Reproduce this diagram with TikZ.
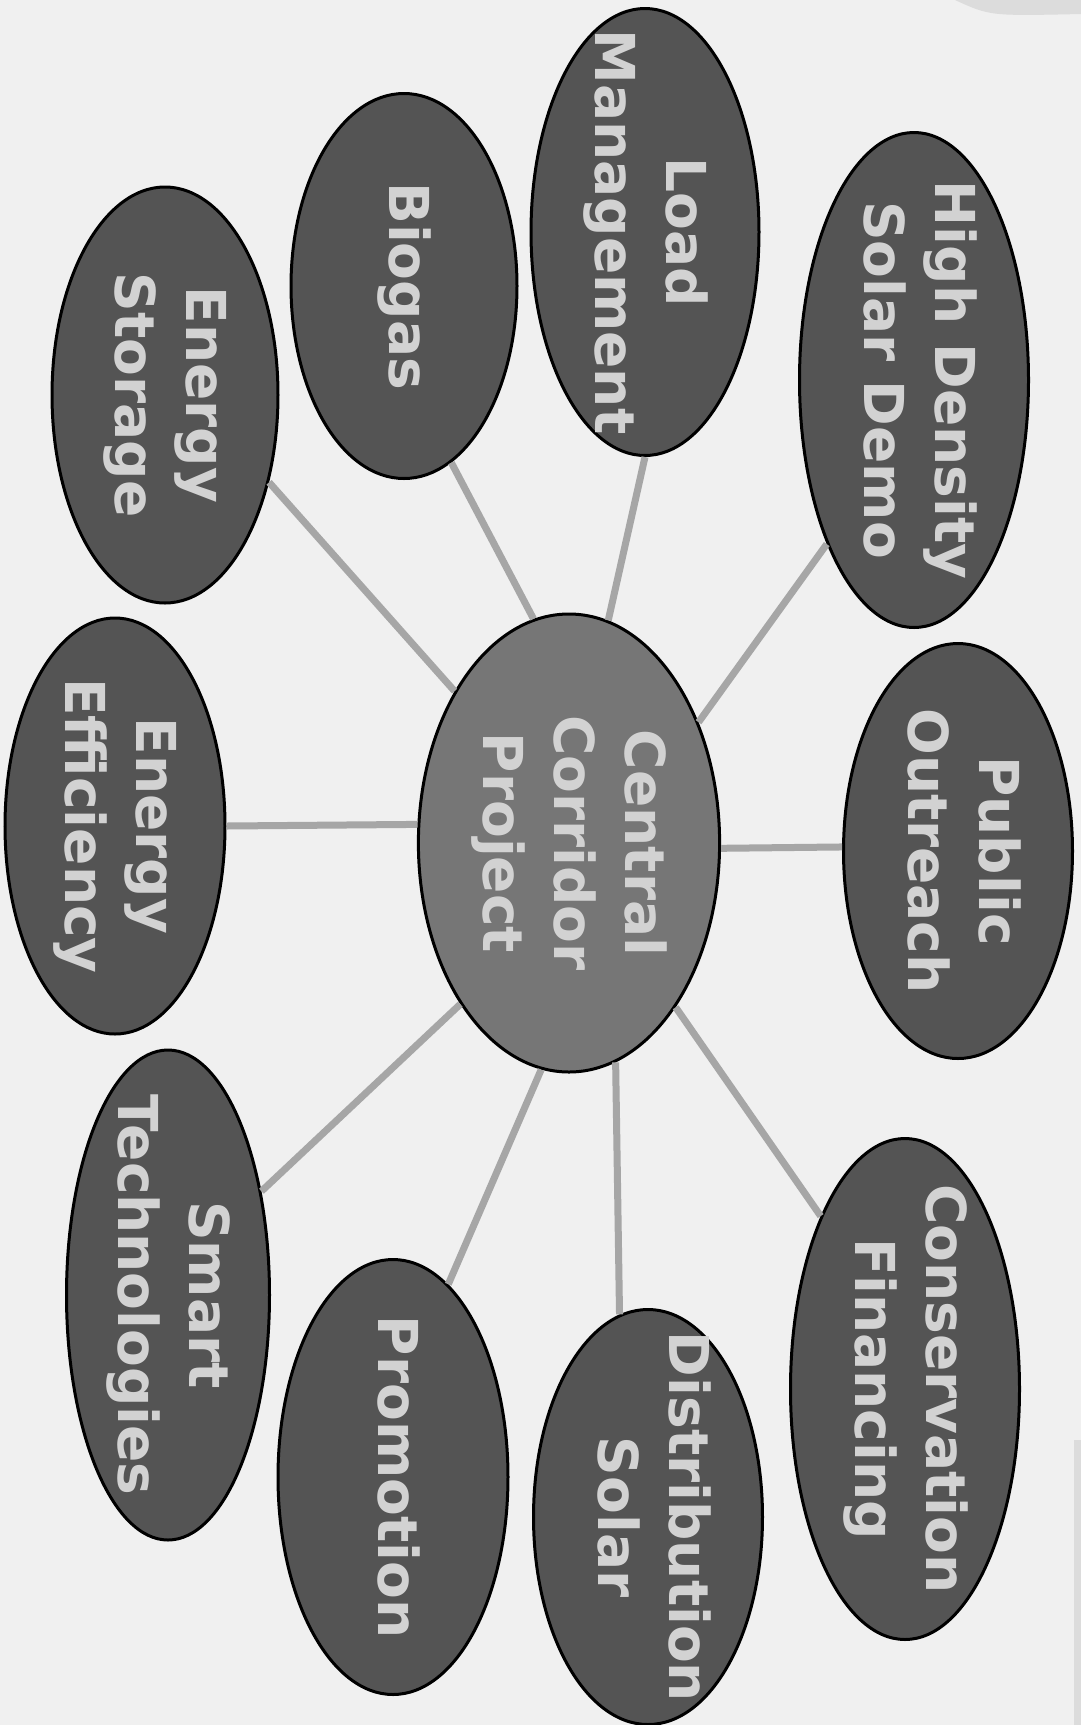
\documentclass[tikz,border=0pt]{standalone}
\usepackage{fontspec}
\setmainfont{DejaVu Sans}
\usetikzlibrary{shapes.geometric}
\definecolor{bgc}{HTML}{F0F0F0}
\definecolor{ovc}{HTML}{545454}
\definecolor{cenc}{HTML}{767676}
\definecolor{txc}{HTML}{D2D2D2}
\definecolor{lnc}{HTML}{A6A6A6}
\definecolor{edgec}{HTML}{DCDCDC}
\newcommand{\bubtext}[1]{\makebox[0pt]{\begin{tabular}{@{}c@{}}#1\end{tabular}}}
\begin{document}
\begin{tikzpicture}[x=1pt,y=-1pt,
  bubble/.style={ellipse, draw=black, line width=3pt, fill=ovc, rotate=-90,
    inner sep=0pt, text=txc, font=\fontsize{55}{71}\selectfont\bfseries},
  hub/.style={bubble, fill=cenc},
  link/.style={draw=lnc, line width=7pt}]
\fill[bgc] (0,0) rectangle (1081,1725);
\useasboundingbox (0,0) rectangle (1081,1725);
\fill[edgec] (955,0) .. controls (990,16) .. (1081,14) -- (1081,0) -- cycle;
\fill[edgec] (1074,1440) rectangle (1081,1725);
% nodes (minimum width = vertical extent, minimum height = horizontal extent, because of rotation)
\node[hub, minimum width=458pt, minimum height=270pt] (c) at (569,843) {\bubtext{Central\\Corridor\\Project}};
\node[bubble, minimum width=495pt, minimum height=229pt] (hd) at (914,380) {\bubtext{High Density\\Solar Demo}};
\node[bubble, minimum width=447pt, minimum height=228pt] (lm) at (645,232) {\bubtext{Load\\Management}};
\node[bubble, minimum width=385pt, minimum height=226pt] (bg) at (404,286) {\bubtext{Biogas}};
\node[bubble, minimum width=416pt, minimum height=226pt] (es) at (165,395) {\bubtext{Energy\\Storage}};
\node[bubble, minimum width=415pt, minimum height=229pt] (po) at (958,851) {\bubtext{Public\\Outreach}};
\node[bubble, minimum width=416pt, minimum height=220pt] (ee) at (115,826) {\bubtext{Energy\\Efficiency}};
\node[bubble, minimum width=501pt, minimum height=229pt] (cf) at (905,1389) {\bubtext{Conservation\\Financing}};
\node[bubble, minimum width=415pt, minimum height=229pt] (ds) at (648,1517) {\bubtext{Distribution\\Solar}};
\node[bubble, minimum width=435pt, minimum height=230pt] (pr) at (393,1477) {\bubtext{Promotion}};
\node[bubble, minimum width=490pt, minimum height=203pt] (st) at (168,1295) {\bubtext{Smart\\Technologies}};
% connectors (anchor angles are in the rotated node frame)
\draw[link] (c.217) -- (es.50);
\draw[link] (c.189) -- (bg.15);
\draw[link] (c.170) -- (lm.0);
\draw[link] (c.133) -- (hd.332);
\draw[link] (c.88) -- (po.268);
\draw[link] (c.263) -- (ee.90);
\draw[link] (c.33) -- (cf.206);
\draw[link] (c.12) -- (ds.188);
\draw[link] (c.353) -- (pr.164);
\draw[link] (c.326) -- (st.138);
\end{tikzpicture}
\end{document}
